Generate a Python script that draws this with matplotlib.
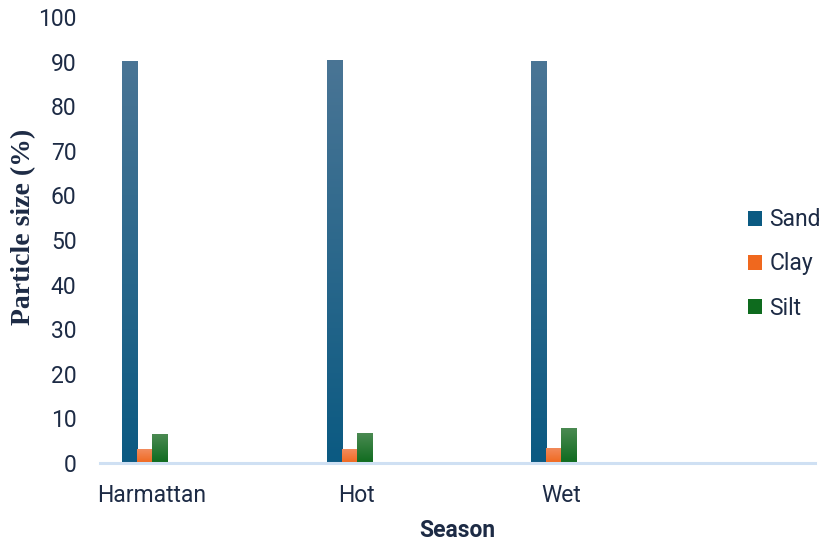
import numpy as np
import matplotlib.pyplot as plt
from matplotlib.patches import Patch
from matplotlib.colors import LinearSegmentedColormap

# data
seasons = ["Harmattan", "Hot", "Wet"]
sand = [90.1, 90.4, 90.1]
clay = [3.1, 3.1, 3.4]
silt = [6.5, 6.7, 7.8]

series = [
    ("Sand", sand, "#4a7595", "#0b5a82"),
    ("Clay", clay, "#f28c5e", "#f0681e"),
    ("Silt", silt, "#4b8a52", "#0e6b1e"),
]

plt.rcParams['font.family'] = ['Roboto', 'DejaVu Sans']
text_col = "#1d2b45"

fig = plt.figure(figsize=(8.22, 5.42), dpi=100)
ax = fig.add_axes([0.1217, 0.1458, 0.8698, 0.8228])

x = np.arange(len(seasons))
w = 0.0735
grad = np.linspace(0, 1, 256).reshape(-1, 1)

for i, (name, vals, top, bottom) in enumerate(series):
    offs = (i - 1.5) * w
    bars = ax.bar(x + offs, vals, width=w, color=bottom, linewidth=0, zorder=2)
    cmap = LinearSegmentedColormap.from_list(name, [bottom, top])
    for b in bars:
        bx, by = b.get_x(), b.get_y()
        im = ax.imshow(grad, cmap=cmap, aspect="auto", origin="lower",
                       extent=[bx, bx + b.get_width(), by, by + b.get_height()],
                       zorder=3)
        im.set_clip_path(b)

ax.set_xlim(-0.254, 3.24)
ax.set_ylim(0, 100)
ax.set_yticks(range(0, 101, 10))
ax.set_xticks(x)
ax.set_xticklabels(seasons)
ax.tick_params(axis="both", length=0, labelsize=16.5, colors=text_col)
ax.tick_params(axis="y", pad=17)
ax.tick_params(axis="x", pad=15)

for s in ["top", "right", "left"]:
    ax.spines[s].set_visible(False)
ax.spines["bottom"].set_color("#cfe0f3")
ax.spines["bottom"].set_linewidth(2.2)
ax.spines["bottom"].set_zorder(4)

ax.set_xlabel("Season", fontsize=16.5, fontweight="bold", color=text_col, labelpad=9)
ax.set_ylabel("Particle size (%)", fontsize=20, fontweight="bold",
              family=["Liberation Serif"], color=text_col)
ax.yaxis.set_label_coords(-0.0895, 0.529)

handles = [Patch(facecolor=bottom, label=name) for name, _, _, bottom in series]
leg = fig.legend(handles=handles, loc="center left", bbox_to_anchor=(0.885, 0.513),
                 frameon=False, fontsize=16.5, handlelength=0.62, handleheight=0.62,
                 handletextpad=0.3, labelspacing=0.92)
for t in leg.get_texts():
    t.set_color(text_col)

fig.savefig("out.png", dpi=100)
